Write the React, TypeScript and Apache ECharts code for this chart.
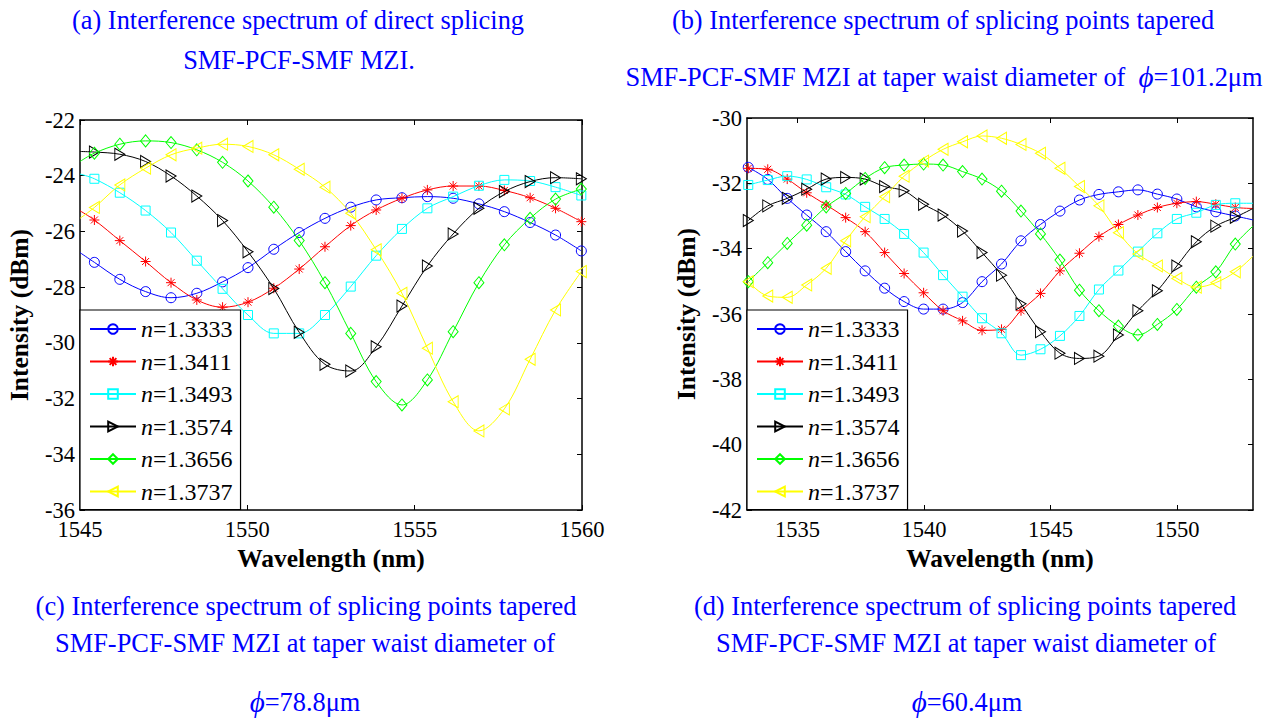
import React, { useEffect, useRef } from "react";
import * as echarts from "echarts";

const FONT = '"Liberation Serif", "Times New Roman", serif';

const seriesNames = ["n=1.3333", "n=1.3411", "n=1.3493", "n=1.3574", "n=1.3656", "n=1.3737"];
const seriesColors = ["#0000ff", "#ff0000", "#00ffff", "#000000", "#00ff00", "#ffff00"];
const seriesSymbols = [
  "circle",
  "path://M5,0L5,10M0,5L10,5M1.5,1.5L8.5,8.5M1.5,8.5L8.5,1.5",
  "rect",
  "path://M0,0L10,5L0,10Z",
  "diamond",
  "path://M10,0L0,5L10,10Z",
];
const seriesSymbolSizes: any[] = [10, 10, 9, [10, 12], [10, 12], [10, 12]];

// ---------- Panel (a): direct splicing ----------
const wlA = [1545.43, 1546.19, 1546.96, 1547.72, 1548.49, 1549.26, 1550.02, 1550.79, 1551.55, 1552.32,
  1553.09, 1553.85, 1554.62, 1555.38, 1556.15, 1556.92, 1557.68, 1558.45, 1559.21, 1559.98];
const wlAStart = 1545;
const aStart = [-26.76, -25.26, -23.94, -23.13, -23.49, -25.53];
const aN1333 = [-27.11, -27.72, -28.16, -28.38, -28.22, -27.81, -27.30, -26.64, -26.04, -25.53,
  -25.13, -24.87, -24.79, -24.75, -24.81, -25.01, -25.29, -25.68, -26.13, -26.70];
const aN1411 = [-25.59, -26.33, -27.08, -27.84, -28.46, -28.72, -28.54, -28.04, -27.35, -26.55,
  -25.79, -25.23, -24.81, -24.51, -24.37, -24.37, -24.53, -24.79, -25.17, -25.65];
const aN1493 = [-24.11, -24.61, -25.25, -26.04, -27.05, -28.06, -29.00, -29.66, -29.66, -29.00,
  -27.98, -26.87, -25.91, -25.17, -24.75, -24.36, -24.15, -24.19, -24.41, -24.71];
const aN1574 = [-23.15, -23.23, -23.49, -24.01, -24.73, -25.61, -26.73, -28.05, -29.62, -30.77,
  -31.01, -30.14, -28.68, -27.24, -26.09, -25.17, -24.57, -24.21, -24.07, -24.11];
const aN1656 = [-23.19, -22.87, -22.75, -22.81, -23.07, -23.52, -24.19, -25.13, -26.33, -27.84,
  -29.66, -31.39, -32.23, -31.33, -29.60, -27.84, -26.48, -25.53, -24.84, -24.48];
const aN1737 = [-25.14, -24.33, -23.73, -23.25, -23.01, -22.87, -22.95, -23.25, -23.77, -24.41,
  -25.35, -26.66, -28.22, -30.19, -32.11, -33.16, -32.37, -30.59, -28.82, -27.44];

// ---------- Panel (b): tapered, phi = 101.2 um ----------
const wlB = [1533.05, 1533.82, 1534.59, 1535.36, 1536.13, 1536.90, 1537.67, 1538.44, 1539.21, 1539.98,
  1540.75, 1541.52, 1542.29, 1543.06, 1543.83, 1544.60, 1545.37, 1546.14, 1546.91, 1547.68,
  1548.45, 1549.22, 1549.99, 1550.76, 1551.53, 1552.30];
const wlBEnd = 1553;
const bEnd = [-33.12, -32.77, -32.61, -32.77, -33.31, -34.23];
const bN1333 = [-31.51, -31.88, -32.46, -32.97, -33.48, -34.09, -34.68, -35.21, -35.62, -35.85,
  -35.85, -35.65, -35.01, -34.47, -33.76, -33.26, -32.85, -32.51, -32.34, -32.26,
  -32.20, -32.33, -32.48, -32.72, -32.87, -33.00];
const bN1411 = [-31.54, -31.57, -31.87, -32.29, -32.66, -33.05, -33.48, -34.12, -34.76, -35.35,
  -35.90, -36.21, -36.50, -36.47, -35.90, -35.37, -34.68, -34.14, -33.63, -33.26,
  -32.97, -32.74, -32.61, -32.56, -32.64, -32.74];
const bN1493 = [-32.05, -31.90, -31.78, -31.88, -32.12, -32.34, -32.72, -33.09, -33.55, -34.12,
  -34.81, -35.47, -36.13, -36.59, -37.26, -37.08, -36.67, -36.06, -35.25, -34.67,
  -34.09, -33.53, -33.09, -32.90, -32.66, -32.61];
const bN1574 = [-33.14, -32.69, -32.46, -32.18, -31.87, -31.82, -31.87, -32.10, -32.23, -32.64,
  -32.97, -33.46, -34.12, -34.81, -35.69, -36.54, -37.20, -37.36, -37.29, -36.64,
  -35.90, -35.29, -34.53, -33.79, -33.31, -33.04];
const bN1656 = [-35.01, -34.43, -33.84, -33.28, -32.72, -32.31, -31.85, -31.52, -31.44, -31.41,
  -31.44, -31.64, -31.87, -32.24, -32.85, -33.55, -34.35, -35.27, -35.90, -36.37,
  -36.64, -36.32, -35.86, -35.18, -34.71, -33.86];
const bN1737 = [-35.01, -35.45, -35.49, -35.11, -34.60, -33.76, -33.02, -32.41, -31.78, -31.32,
  -30.96, -30.73, -30.55, -30.62, -30.81, -31.08, -31.54, -32.10, -32.69, -33.51,
  -34.16, -34.53, -34.91, -35.18, -35.04, -34.71];

// ---------- Axis ticks ----------
const xTicksA = [1545, 1550, 1555, 1560];
const xTicksB = [1535, 1540, 1545, 1550];

// ---------- Captions ----------
const captions = [
  { text: "(a) Interference spectrum of direct splicing", x: 298, y: 20 },
  { text: "SMF-PCF-SMF MZI.", x: 299, y: 60 },
  { text: "(b) Interference spectrum of splicing points tapered", x: 943, y: 20 },
  { text: "SMF-PCF-SMF MZI at taper waist diameter of  {i|ϕ}=101.2μm", x: 944, y: 77 },
  { text: "(c) Interference spectrum of splicing points tapered", x: 306, y: 606 },
  { text: "SMF-PCF-SMF MZI at taper waist diameter of", x: 305, y: 643 },
  { text: "{i|ϕ}=78.8μm", x: 305, y: 702 },
  { text: "(d) Interference spectrum of splicing points tapered", x: 965, y: 606 },
  { text: "SMF-PCF-SMF MZI at taper waist diameter of", x: 966, y: 643 },
  { text: "{i|ϕ}=60.4μm", x: 967, y: 702 },
];

const seriesA = [aN1333, aN1411, aN1493, aN1574, aN1656, aN1737];
const seriesB = [bN1333, bN1411, bN1493, bN1574, bN1656, bN1737];

function buildSeries(idx: number, panel: number) {
  const color = seriesColors[idx];
  const data: any[] = [];
  if (panel === 0) {
    data.push({ value: [wlAStart, aStart[idx]], symbol: "none" });
    seriesA[idx].forEach((v, i) => data.push([wlA[i], v]));
  } else {
    seriesB[idx].forEach((v, i) => data.push([wlB[i], v]));
    data.push({ value: [wlBEnd, bEnd[idx]], symbol: "none" });
  }
  return {
    type: "line",
    name: seriesNames[idx],
    xAxisIndex: panel === 0 ? 0 : 2,
    yAxisIndex: panel === 0 ? 0 : 2,
    data,
    smooth: 0.35,
    symbol: seriesSymbols[idx],
    symbolSize: seriesSymbolSizes[idx],
    showAllSymbol: true,
    lineStyle: { color, width: 1 },
    itemStyle: { color: "rgba(255,255,255,0)", borderColor: color, borderWidth: 1 },
    emphasis: { disabled: true },
    z: 2 + idx * 0.01,
  };
}

const axisLineStyle = { color: "#000", width: 1.5 };
const tickStyle = { inside: true, length: 5, lineStyle: { color: "#000", width: 1 } };
const labelStyle = { color: "#000", fontFamily: FONT, fontSize: 22.5 };
const nameStyle = { color: "#000", fontFamily: FONT, fontSize: 25.5, fontWeight: "bold" };

function xAxisPair(grid: number, min: number, max: number, ticks: number[]) {
  const common = {
    gridIndex: grid,
    type: "value",
    min,
    max,
    splitLine: { show: false },
    axisLine: { show: true, lineStyle: axisLineStyle },
  };
  return [
    {
      ...common,
      position: "bottom",
      axisTick: { ...tickStyle, customValues: ticks },
      axisLabel: { ...labelStyle, margin: 8, customValues: ticks, formatter: (v: number) => String(v) },
      name: "Wavelength (nm)",
      nameLocation: "middle",
      nameGap: 35,
      nameTextStyle: nameStyle,
    },
    {
      ...common,
      position: "top",
      axisTick: { ...tickStyle, customValues: ticks },
      axisLabel: { show: false },
    },
  ];
}

function yAxisPair(grid: number, min: number, max: number) {
  const common = {
    gridIndex: grid,
    type: "value",
    min,
    max,
    interval: 2,
    splitLine: { show: false },
    axisLine: { show: true, lineStyle: axisLineStyle },
    axisTick: tickStyle,
  };
  return [
    {
      ...common,
      position: "left",
      axisLabel: { ...labelStyle, margin: 5 },
      name: "Intensity (dBm)",
      nameLocation: "middle",
      nameGap: 48,
      nameRotate: 90,
      nameTextStyle: nameStyle,
    },
    { ...common, position: "right", axisLabel: { show: false } },
  ];
}

function legendFor(left: number) {
  return {
    left,
    top: 310,
    orient: "vertical",
    data: seriesNames,
    selectedMode: false,
    backgroundColor: "#fff",
    borderColor: "#000",
    borderWidth: 1.2,
    borderRadius: 0,
    padding: [7, 8, 6, 9],
    itemGap: 8.5,
    itemWidth: 46,
    itemHeight: 12,
    textStyle: {
      color: "#000",
      fontFamily: FONT,
      fontSize: 24,
      lineHeight: 24,
      rich: { i: { fontStyle: "italic", fontFamily: FONT, fontSize: 24, lineHeight: 24, color: "#000" } },
    },
    formatter: (name: string) => "{i|n}" + name.slice(1),
    z: 10,
  };
}

const option: any = {
  animation: false,
  backgroundColor: "#fff",
  grid: [
    { left: 80, top: 120, width: 502, height: 390 },
    { left: 747, top: 118, width: 506, height: 392 },
  ],
  xAxis: [...xAxisPair(0, 1545, 1560, xTicksA), ...xAxisPair(1, 1533, 1553, xTicksB)],
  yAxis: [...yAxisPair(0, -36, -22), ...yAxisPair(1, -42, -30)],
  legend: [legendFor(80), legendFor(747)],
  series: [
    ...seriesNames.map((_, i) => buildSeries(i, 0)),
    ...seriesNames.map((_, i) => buildSeries(i, 1)),
  ],
  graphic: {
    elements: captions.map((c) => ({
      type: "text",
      x: c.x,
      y: c.y,
      silent: true,
      style: {
        text: c.text,
        x: 0,
        y: 0,
        fill: "#0000ff",
        fontFamily: FONT,
        fontSize: 26.4,
        align: "center",
        verticalAlign: "middle",
        textAlign: "center",
        textVerticalAlign: "middle",
        rich: { i: { fontStyle: "italic", fontFamily: FONT, fontSize: 29, fill: "#0000ff" } },
      },
    })),
  },
};

export default function App() {
  const ref = useRef<HTMLDivElement>(null);
  useEffect(() => {
    if (!ref.current) return;
    const chart = echarts.init(ref.current, null, { renderer: "svg" });
    chart.setOption(option);
    return () => chart.dispose();
  }, []);
  return (
    <div
      ref={ref}
      style={{ position: "absolute", left: 0, top: 0, width: 1277, height: 719, background: "#fff" }}
    />
  );
}
